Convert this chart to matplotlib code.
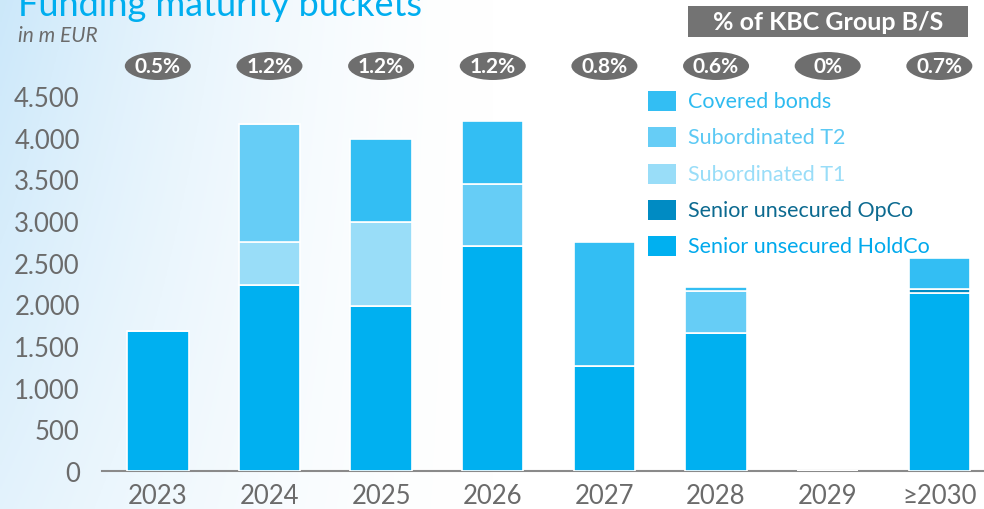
import numpy as np
import matplotlib
matplotlib.use("Agg")
import matplotlib.pyplot as plt
import matplotlib.transforms as mtransforms
from matplotlib.patches import Ellipse, Rectangle

plt.rcParams["font.family"] = ["Lato", "DejaVu Sans"]

years = ["2023", "2024", "2025", "2026", "2027", "2028", "2029", "≥2030"]
share_of_bs = ["0.5%", "1.2%", "1.2%", "1.2%", "0.8%", "0.6%", "0%", "0.7%"]

# m EUR per bucket, stacked bottom to top
holdco  = [1680, 2230, 1980, 2700, 1260, 1655, 0, 2135]
opco    = [0, 0, 0, 0, 0, 0, 0, 45]
sub_t1  = [0, 520, 1010, 0, 0, 0, 0, 0]
sub_t2  = [0, 1420, 0, 750, 0, 500, 0, 0]
covered = [0, 0, 1000, 745, 1490, 50, 0, 375]

series = [
    ("Senior unsecured HoldCo", holdco,  "#00b0f0", "#00a9ec"),
    ("Senior unsecured OpCo",   opco,    "#008bc3", "#0c6a90"),
    ("Subordinated T1",         sub_t1,  "#99ddf8", "#99ddf8"),
    ("Subordinated T2",         sub_t2,  "#66cdf6", "#5cc9f4"),
    ("Covered bonds",           covered, "#33bef3", "#2ebbf0"),
]

W, H = 984, 510
fig = plt.figure(figsize=(W / 100, H / 100), dpi=100)

# soft blue wash on the left, fading to white
bg = fig.add_axes([0, 0, 1, 1], zorder=-10)
gx = np.linspace(0, 1, 400)
gy = np.linspace(0, 1, 200)[:, None]
fade = np.clip(1 - gx / 0.5, 0, 1) ** 1.6 * (0.55 + 0.45 * gy)
c0 = np.array([1.0, 1.0, 1.0])
c1 = np.array([0.80, 0.91, 0.98])
img = c0 + (c1 - c0) * fade[..., None]
bg.imshow(img, aspect="auto", origin="lower", extent=[0, 1, 0, 1])
bg.axis("off")

left, right = 102 / W, 984 / W
bottom, top = (H - 472) / H, (H - 97) / H
ax = fig.add_axes([left, bottom, right - left, top - bottom])
ax.patch.set_alpha(0)

x = np.arange(len(years))
base = np.zeros(len(years))
for name, vals, col, _ in series:
    v = np.array(vals, dtype=float)
    ax.bar(x, v, 0.55, bottom=base, color=col, edgecolor="white", linewidth=1.2, zorder=3)
    base += v

ax.set_xlim(-0.5, 7.4)
ax.set_ylim(0, 4500)
ax.set_yticks(np.arange(0, 4501, 500))
ax.set_yticklabels([f"{v:,}".replace(",", ".") for v in range(0, 4501, 500)])
ax.set_xticks(x)
ax.set_xticklabels(years)
ax.tick_params(axis="both", length=0, labelsize=18.5, colors="#6b6b6b")
ax.tick_params(axis="y", pad=16)
ax.tick_params(axis="x", pad=8.5)
for s in ["top", "right", "left"]:
    ax.spines[s].set_visible(False)
ax.spines["bottom"].set_color("#8a8a8a")
ax.spines["bottom"].set_linewidth(1.5)

# title and unit
fig.text(18 / W, 1 - 16 / H, "Funding maturity buckets", fontsize=26, color="#00aeef",
         va="baseline", ha="left")
fig.text(18 / W, 1 - 36 / H, "in m EUR", fontsize=15, color="#6b6b6b", style="italic",
         va="center", ha="left")

# share of balance sheet header and badges
fig.patches.append(Rectangle((688 / W, 1 - 38 / H), 280 / W, 31 / H,
                             transform=fig.transFigure, fc="#737373", ec="none"))
fig.text(828 / W, 1 - 23 / H, "% of KBC Group B/S", fontsize=18, fontweight="bold",
         color="white", ha="center", va="center")
trans = mtransforms.blended_transform_factory(ax.transData, fig.transFigure)
for xi, lab in zip(x, share_of_bs):
    ax.add_patch(Ellipse((xi, 1 - 67 / H), 66 / 111.6, 28 / H, transform=trans,
                         fc="#6e6e6e", ec="none", clip_on=False))
    ax.text(xi, 1 - 67 / H, lab, transform=trans, fontsize=15, fontweight="bold",
            color="white", ha="center", va="center", clip_on=False)

# legend, top to bottom
leg_rows = [102, 138, 175, 211, 247]
for yy, (name, _, col, tcol) in zip(leg_rows, series[::-1]):
    fig.patches.append(Rectangle((648 / W, 1 - (yy + 10) / H), 28 / W, 20 / H,
                                 transform=fig.transFigure, fc=col, ec="none"))
    fig.text(688 / W, 1 - yy / H, name, fontsize=15.5, color=tcol, ha="left", va="center")

fig.savefig("out.png", dpi=100)
